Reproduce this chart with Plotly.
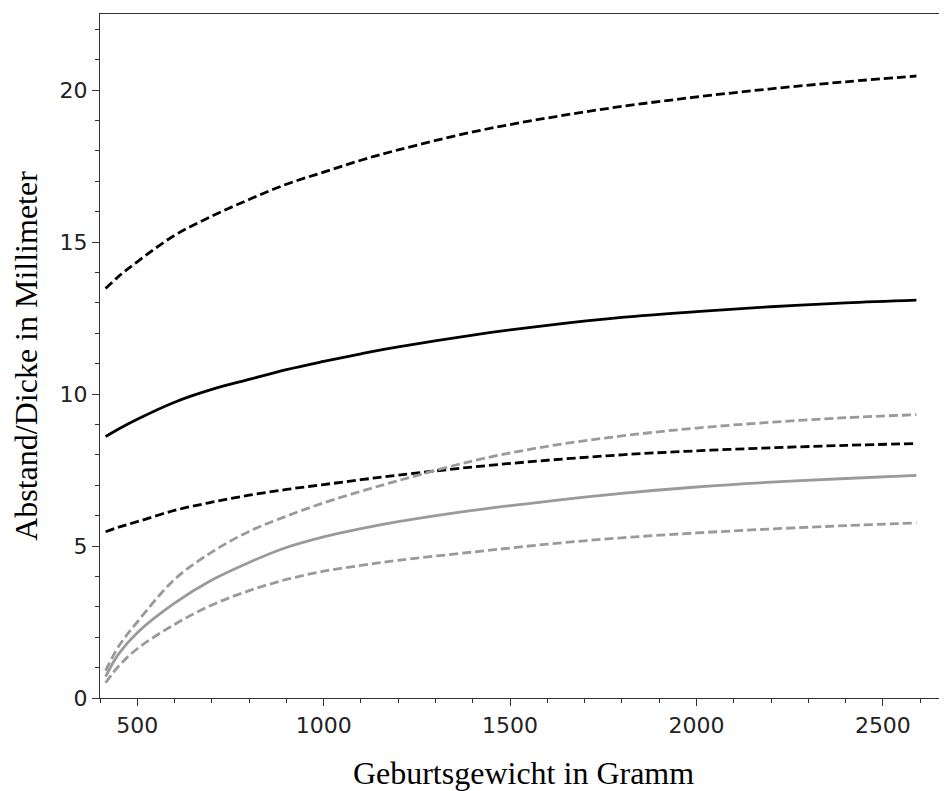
import plotly.graph_objects as go

# Birth weight (g)
gewicht = [415, 450, 500, 600, 700, 800, 900, 1000, 1100, 1200, 1400, 1600, 1800, 2000, 2200, 2400, 2590]

# Black curves
schwarz_oben = [13.47, 13.87, 14.35, 15.22, 15.85, 16.4, 16.9, 17.3, 17.69, 18.03, 18.62, 19.08, 19.46, 19.77, 20.04, 20.27, 20.46]
schwarz_mitte = [8.6, 8.85, 9.17, 9.73, 10.15, 10.48, 10.8, 11.07, 11.32, 11.55, 11.94, 12.26, 12.52, 12.71, 12.87, 13.0, 13.09]
schwarz_unten = [5.47, 5.62, 5.8, 6.17, 6.44, 6.67, 6.86, 7.02, 7.18, 7.33, 7.6, 7.82, 8.0, 8.13, 8.23, 8.31, 8.37]

# Grey curves
grau_oben = [0.9, 1.7, 2.5, 3.9, 4.8, 5.48, 5.98, 6.42, 6.8, 7.15, 7.8, 8.28, 8.62, 8.88, 9.07, 9.22, 9.32]
grau_mitte = [0.7, 1.45, 2.15, 3.12, 3.88, 4.46, 4.95, 5.3, 5.57, 5.8, 6.17, 6.47, 6.73, 6.94, 7.1, 7.22, 7.32]
grau_unten = [0.5, 1.05, 1.62, 2.42, 3.06, 3.53, 3.9, 4.17, 4.36, 4.53, 4.8, 5.06, 5.27, 5.43, 5.56, 5.67, 5.76]

x_ticks = [500, 1000, 1500, 2000, 2500]
y_ticks = [0, 5, 10, 15, 20]

SCHWARZ = "#000000"
GRAU = "#9a9a9a"
DASH = "9px,4px"

serien = [
    (schwarz_oben, SCHWARZ, DASH),
    (schwarz_mitte, SCHWARZ, "solid"),
    (schwarz_unten, SCHWARZ, DASH),
    (grau_oben, GRAU, DASH),
    (grau_mitte, GRAU, "solid"),
    (grau_unten, GRAU, DASH),
]

fig = go.Figure()
for werte, farbe, dash in serien:
    fig.add_trace(go.Scatter(
        x=gewicht, y=werte, mode="lines",
        line=dict(color=farbe, width=2.8, dash=dash, shape="spline", smoothing=1.0),
        showlegend=False, hoverinfo="skip",
    ))

tick_font = dict(family="DejaVu Sans", size=22, color="#222222")
title_font = dict(family="Liberation Serif", size=32, color="#000000")

# The page body has an 8px margin, so the figure is sized/offset to compensate.
fig.update_layout(
    width=939, height=783,
    margin=dict(l=92, r=0, t=6, b=93),
    paper_bgcolor="white", plot_bgcolor="white",
    xaxis=dict(
        range=[400, 2672], tickvals=x_ticks, ticktext=[str(v) for v in x_ticks],
        showgrid=False, zeroline=False,
        showline=True, linecolor="#333333", linewidth=1.3, mirror=True,
        ticks="outside", ticklen=7, tickwidth=1.2, tickcolor="#333333",
        minor=dict(dtick=100, tick0=0, ticks="outside", ticklen=4, tickwidth=1, tickcolor="#333333", showgrid=False),
        tickfont=tick_font,
        title=dict(text="Geburtsgewicht in Gramm", font=title_font, standoff=34),
        automargin=False,
    ),
    yaxis=dict(
        range=[0, 22.5], tickvals=y_ticks, ticktext=[str(v) for v in y_ticks],
        showgrid=False, zeroline=False,
        showline=True, linecolor="#333333", linewidth=1.3,
        ticks="outside", ticklen=7, tickwidth=1.2, tickcolor="#333333",
        minor=dict(dtick=1, tick0=0, ticks="outside", ticklen=4, tickwidth=1, tickcolor="#333333", showgrid=False),
        tickfont=tick_font,
        title=dict(text="Abstand/Dicke in Millimeter", font=title_font, standoff=19),
        automargin=False,
    ),
)

fig.write_html("out.html")
